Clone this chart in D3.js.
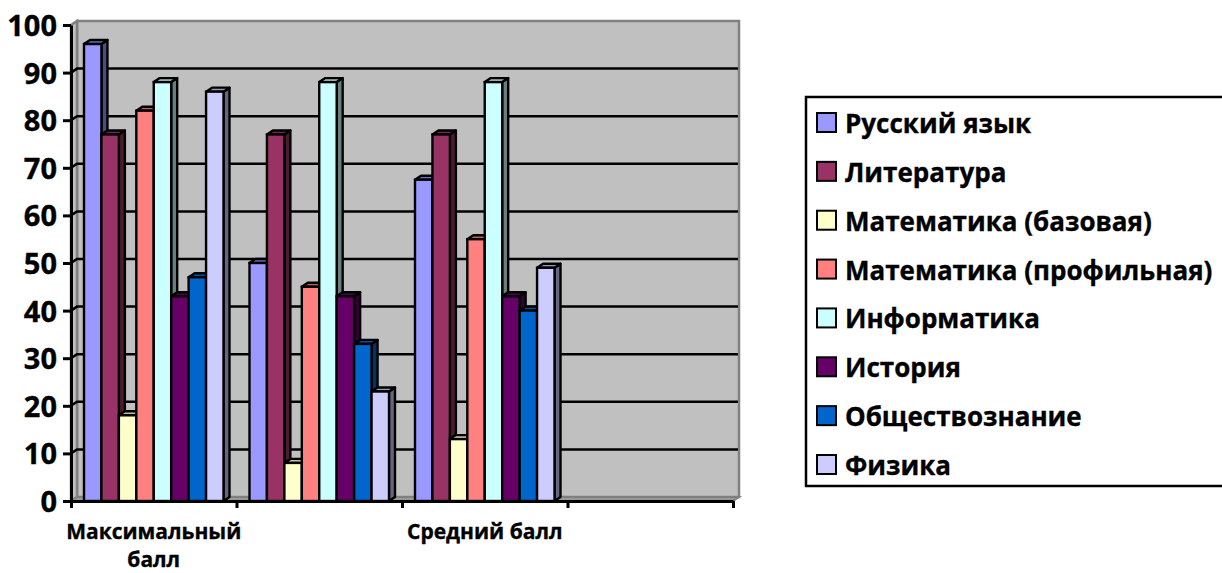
<!DOCTYPE html>
<html>
<head>
<meta charset="utf-8">
<script src="https://d3js.org/d3.v7.min.js"></script>
<style>
  html, body { margin: 0; padding: 0; background: #fff; }
  svg { display: block; }
  text { font-family: "Open Sans", sans-serif; font-weight: 700; fill: #000; stroke: #000; stroke-width: 0.35px; }
</style>
</head>
<body>
<div id="vis"></div>
<script>
const FRAME_WIDTH = 1222;
const FRAME_HEIGHT = 573;

const CATEGORIES = ["Максимальный балл", "Минимальный", "Средний балл", "Пусто"];
const CATEGORY_LABELS = ["Максимальный балл", "", "Средний балл", ""];
const SERIES = ["Русский язык", "Литература", "Математика (базовая)", "Математика (профильная)",
                "Информатика", "История", "Обществознание", "Физика"];
const COLORS = ["#9999ff", "#993366", "#ffffcc", "#ff8080", "#ccffff", "#660066", "#0066cc", "#ccccff"];
const MAX_BALL = [96, 77, 18, 82, 88, 43, 47, 86];
const MIN_BALL = [50, 77, 8, 45, 88, 43, 33, 23];
const AVG_BALL = [67.5, 77, 13, 55, 88, 43, 40, 49];
const Y_TICKS = [0, 10, 20, 30, 40, 50, 60, 70, 80, 90, 100];

const DEPTH_X = 6;
const DEPTH_Y = 4;

const FRAME = d3.select("#vis").append("svg")
  .attr("width", FRAME_WIDTH)
  .attr("height", FRAME_HEIGHT);

const X_SCALE = d3.scaleBand().domain(CATEGORIES).range([71, 733]);
const Y_SCALE = d3.scaleLinear().domain([0, 100]).range([501, 25]);
const BAR_SCALE = d3.scaleBand().domain(SERIES)
  .range([13, X_SCALE.bandwidth() - 13]);

const x0 = X_SCALE.range()[0], x1 = X_SCALE.range()[1];
const yBase = Y_SCALE(0), yTop = Y_SCALE(100);

// walls
FRAME.append("polygon")
  .attr("points", [[x0 + DEPTH_X, yTop - DEPTH_Y], [x1 + DEPTH_X, yTop - DEPTH_Y],
                   [x1 + DEPTH_X, yBase - DEPTH_Y], [x0 + DEPTH_X, yBase - DEPTH_Y]].join(" "))
  .attr("fill", "#c0c0c0")
  .attr("stroke", "#808080")
  .attr("stroke-width", 2.5);

FRAME.append("polygon")
  .attr("points", [[x0, yTop], [x0 + DEPTH_X, yTop - DEPTH_Y],
                   [x0 + DEPTH_X, yBase - DEPTH_Y], [x0, yBase]].join(" "))
  .attr("fill", "#c0c0c0")
  .attr("stroke", "#808080")
  .attr("stroke-width", 2.5);

FRAME.append("polygon")
  .attr("points", [[x0, yBase], [x0 + DEPTH_X, yBase - DEPTH_Y],
                   [x1 + DEPTH_X, yBase - DEPTH_Y], [x1, yBase]].join(" "))
  .attr("fill", "#999999")
  .attr("stroke", "#808080")
  .attr("stroke-width", 2);

// gridlines on the back wall and the side wall
FRAME.selectAll(".grid")
  .data(Y_TICKS.slice(1, -1))
  .enter()
  .append("polyline")
    .attr("class", "grid")
    .attr("points", (d) => [[x0, Y_SCALE(d)], [x0 + DEPTH_X, Y_SCALE(d) - DEPTH_Y],
                            [x1 + DEPTH_X - 1, Y_SCALE(d) - DEPTH_Y]].join(" "))
    .attr("fill", "none")
    .attr("stroke", "#000")
    .attr("stroke-width", 2.5);

// bars
const ALL_VALUES = [MAX_BALL, MIN_BALL, AVG_BALL];

ALL_VALUES.forEach((values, i) => {
  const GROUP = FRAME.append("g")
    .attr("transform", "translate(" + X_SCALE(CATEGORIES[i]) + ",0)");

  SERIES.forEach((name, j) => {
    const x = BAR_SCALE(name);
    const w = BAR_SCALE.bandwidth();
    const y = Y_SCALE(values[j]);
    const color = d3.color(COLORS[j]);

    // side face
    GROUP.append("polygon")
      .attr("points", [[x + w, y], [x + w + DEPTH_X, y - DEPTH_Y],
                       [x + w + DEPTH_X, yBase - DEPTH_Y], [x + w, yBase]].join(" "))
      .attr("fill", d3.rgb(color.r * 0.5, color.g * 0.5, color.b * 0.5))
      .attr("stroke", "#000")
      .attr("stroke-width", 2.4)
      .attr("stroke-linejoin", "round");

    // top face
    GROUP.append("polygon")
      .attr("points", [[x, y], [x + DEPTH_X, y - DEPTH_Y],
                       [x + w + DEPTH_X, y - DEPTH_Y], [x + w, y]].join(" "))
      .attr("fill", d3.rgb(color.r * 0.75, color.g * 0.75, color.b * 0.75))
      .attr("stroke", "#000")
      .attr("stroke-width", 2.4)
      .attr("stroke-linejoin", "round");

    // front face
    GROUP.append("rect")
      .attr("x", x)
      .attr("y", y)
      .attr("width", w)
      .attr("height", yBase - y)
      .attr("fill", COLORS[j])
      .attr("stroke", "#000")
      .attr("stroke-width", 2.4);
  });
});

// axes
const Y_AXIS = FRAME.append("g")
  .attr("transform", "translate(" + x0 + ",0)")
  .call(d3.axisLeft(Y_SCALE).tickValues(Y_TICKS).tickSize(8).tickPadding(6).tickSizeOuter(0));
Y_AXIS.selectAll("text").style("font-size", "29px").attr("dy", "0.36em");
Y_AXIS.selectAll("line, path").attr("stroke", "#000").attr("stroke-width", 3);

const X_AXIS = FRAME.append("g")
  .attr("transform", "translate(0," + yBase + ")")
  .call(d3.axisBottom(d3.scaleLinear().domain([0, 4]).range([x0, x1]))
    .tickValues([0, 1, 2, 3, 4]).tickSize(7).tickSizeOuter(0).tickFormat(""));
X_AXIS.selectAll("line, path").attr("stroke", "#000").attr("stroke-width", 3);

// category labels, wrapped by hand like the original
FRAME.selectAll(".cat")
  .data(CATEGORY_LABELS)
  .enter()
  .append("text")
    .attr("class", "cat")
    .attr("text-anchor", "middle")
    .attr("x", (d, i) => X_SCALE(CATEGORIES[i]) + X_SCALE.bandwidth() / 2)
    .attr("y", 539)
    .attr("font-size", 21)
    .each(function(d) {
      const words = d === "Максимальный балл" ? d.split(" ") : [d];
      const x = d3.select(this).attr("x");
      words.forEach((word, k) => {
        d3.select(this).append("tspan")
          .attr("x", x)
          .attr("dy", k === 0 ? 0 : 28)
          .text(word);
      });
    });

// legend
const LEGEND_Y = d3.scalePoint().domain(SERIES).range([123, 465]);

FRAME.append("rect")
  .attr("x", 806)
  .attr("y", 97)
  .attr("width", 430)
  .attr("height", 389)
  .attr("fill", "#fff")
  .attr("stroke", "#000")
  .attr("stroke-width", 2.5);

FRAME.selectAll(".swatch")
  .data(SERIES)
  .enter()
  .append("rect")
    .attr("class", "swatch")
    .attr("x", 817)
    .attr("y", (d) => LEGEND_Y(d) - 10)
    .attr("width", 19)
    .attr("height", 19)
    .attr("fill", (d, i) => COLORS[i])
    .attr("stroke", "#000")
    .attr("stroke-width", 2);

FRAME.selectAll(".legend-label")
  .data(SERIES)
  .enter()
  .append("text")
    .attr("class", "legend-label")
    .attr("x", 845)
    .attr("y", (d) => LEGEND_Y(d) + 10)
    .attr("font-size", 26)
    .text((d) => d);
</script>
</body>
</html>
